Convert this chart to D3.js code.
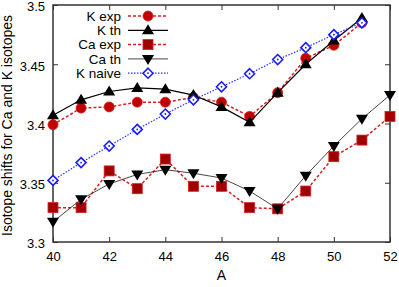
<!DOCTYPE html>
<html>
<head>
<meta charset="utf-8">
<script src="https://cdn.jsdelivr.net/npm/d3@7"></script>
<style>
  body { margin: 0; background: #fff; }
  text { font-family: "Liberation Sans", Arial, sans-serif; }
</style>
</head>
<body>
<div id="chart"></div>
<script>
const massK = [40, 41, 42, 43, 44, 45, 46, 47, 48, 49, 50, 51];
const massCa = [40, 41, 42, 43, 44, 45, 46, 47, 48, 49, 50, 51, 52];
const kExp = [3.399, 3.413, 3.414, 3.418, 3.418, 3.422, 3.418, 3.406, 3.426, 3.455, 3.466, 3.485];
const kTh = [3.407, 3.420, 3.427, 3.430, 3.429, 3.424, 3.414, 3.401, 3.426, 3.450, 3.470, 3.489];
const caExp = [3.329, 3.329, 3.360, 3.345, 3.370, 3.347, 3.347, 3.329, 3.328, 3.343, 3.372, 3.386, 3.406];
const caTh = [3.317, 3.336, 3.349, 3.357, 3.361, 3.358, 3.354, 3.343, 3.328, 3.356, 3.381, 3.404, 3.424];
const kNaive = [3.352, 3.367, 3.381, 3.395, 3.408, 3.420, 3.431, 3.442, 3.454, 3.464, 3.475, 3.485];
const xTicks = [40, 42, 44, 46, 48, 50, 52];
const yTicks = [3.3, 3.35, 3.4, 3.45, 3.5];

const W = 399, H = 287;
const m = {left: 53, right: 9, top: 5, bottom: 45};

const svg = d3.select('#chart').append('svg')
  .attr('width', W).attr('height', H);

const x = d3.scaleLinear().domain([40, 52]).range([m.left, W - m.right]);
const y = d3.scaleLinear().domain([3.3, 3.5]).range([H - m.bottom, m.top]);

// inward ticks on all four sides
const frame = '#333';
svg.append('g').attr('transform', `translate(0,${H - m.bottom})`)
  .call(d3.axisBottom(x).tickValues(xTicks).tickSizeInner(-5).tickSizeOuter(0).tickPadding(10))
  .call(g => g.select('.domain').remove());
svg.append('g').attr('transform', `translate(0,${m.top})`)
  .call(d3.axisTop(x).tickValues(xTicks).tickSizeInner(-5).tickSizeOuter(0).tickFormat(''))
  .call(g => g.select('.domain').remove());
svg.append('g').attr('transform', `translate(${m.left},0)`)
  .call(d3.axisLeft(y).tickValues(yTicks).tickSizeInner(-5).tickSizeOuter(0).tickPadding(8).tickFormat(d3.format('')))
  .call(g => g.select('.domain').remove())
  .call(g => g.selectAll('.tick text').attr('dy', '0.45em'));
svg.append('g').attr('transform', `translate(${W - m.right},0)`)
  .call(d3.axisRight(y).tickValues(yTicks).tickSizeInner(-5).tickSizeOuter(0).tickFormat(''))
  .call(g => g.select('.domain').remove());

svg.selectAll('.tick line').attr('stroke', frame).attr('stroke-width', 1);
svg.selectAll('.tick text').attr('font-size', 13).attr('fill', '#000')
  .attr('font-family', '"Liberation Sans", Arial, sans-serif');

svg.append('rect')
  .attr('x', m.left).attr('y', m.top)
  .attr('width', W - m.left - m.right).attr('height', H - m.top - m.bottom)
  .attr('fill', 'none').attr('stroke', frame).attr('stroke-width', 1.5);

svg.append('text')
  .attr('x', x(46)).attr('y', 280)
  .attr('text-anchor', 'middle').attr('font-size', 14).text('A');
svg.append('text')
  .attr('transform', `translate(12,${(m.top + H - m.bottom) / 2 + 2}) rotate(-90)`)
  .attr('text-anchor', 'middle').attr('font-size', 14)
  .text('Isotope shifts for Ca and K isotopes');

const series = [
  {name: 'K exp', xs: massK, ys: kExp, stroke: '#d42020', dash: '3,2', width: 1.5, marker: 'circle', fill: '#c00000', mstroke: '#d42020'},
  {name: 'K th', xs: massK, ys: kTh, stroke: '#000', dash: null, width: 1.2, marker: 'up', fill: '#000', mstroke: '#000'},
  {name: 'Ca exp', xs: massCa, ys: caExp, stroke: '#d42020', dash: '3,2', width: 1.5, marker: 'square', fill: '#a00000', mstroke: '#d42020'},
  {name: 'Ca th', xs: massCa, ys: caTh, stroke: '#333', dash: null, width: 0.9, marker: 'down', fill: '#000', mstroke: '#000'},
  {name: 'K naive', xs: massK, ys: kNaive, stroke: '#2233ff', dash: '1.5,1.5', width: 1.2, marker: 'diamond', fill: '#fff', mstroke: '#1a1aff'}
];

function drawMarker(g, s, cx, cy) {
  if (s.marker === 'circle') {
    g.append('circle').attr('cx', cx).attr('cy', cy).attr('r', 5)
      .attr('fill', s.fill).attr('stroke', s.mstroke).attr('stroke-width', 0.8);
  } else if (s.marker === 'square') {
    g.append('rect').attr('x', cx - 5).attr('y', cy - 5).attr('width', 10).attr('height', 10)
      .attr('fill', s.fill).attr('stroke', s.mstroke).attr('stroke-width', 0.8);
  } else if (s.marker === 'up') {
    g.append('path').attr('d', `M${cx},${cy - 6}L${cx + 6},${cy + 4}L${cx - 6},${cy + 4}Z`).attr('fill', s.fill);
  } else if (s.marker === 'down') {
    g.append('path').attr('d', `M${cx},${cy + 6}L${cx + 6},${cy - 4}L${cx - 6},${cy - 4}Z`).attr('fill', s.fill);
  } else if (s.marker === 'diamond') {
    g.append('path').attr('d', `M${cx},${cy - 5}L${cx + 5},${cy}L${cx},${cy + 5}L${cx - 5},${cy}Z`)
      .attr('fill', '#fff').attr('stroke', s.mstroke).attr('stroke-width', 1.6);
    g.append('circle').attr('cx', cx).attr('cy', cy).attr('r', 0.9).attr('fill', s.mstroke);
  }
}

const line = d3.line().x(d => x(d[0])).y(d => y(d[1]));
const plot = svg.append('g');
series.forEach(s => {
  const pts = s.xs.map((a, i) => [a, s.ys[i]]);
  plot.append('path').datum(pts).attr('d', line)
    .attr('fill', 'none').attr('stroke', s.stroke).attr('stroke-width', s.width)
    .attr('stroke-dasharray', s.dash);
  const mg = plot.append('g');
  pts.forEach(p => drawMarker(mg, s, x(p[0]), y(p[1])));
});

// legend
const leg = svg.append('g');
series.forEach((s, i) => {
  const ly = 16 + i * 14.3;
  leg.append('text').attr('x', 121).attr('y', ly).attr('dy', '0.35em')
    .attr('text-anchor', 'end').attr('font-size', 13.5).text(s.name);
  leg.append('line').attr('x1', 128).attr('x2', 168).attr('y1', ly).attr('y2', ly)
    .attr('stroke', s.stroke).attr('stroke-width', s.width).attr('stroke-dasharray', s.dash);
  drawMarker(leg, s, 148, ly);
});
</script>
</body>
</html>
